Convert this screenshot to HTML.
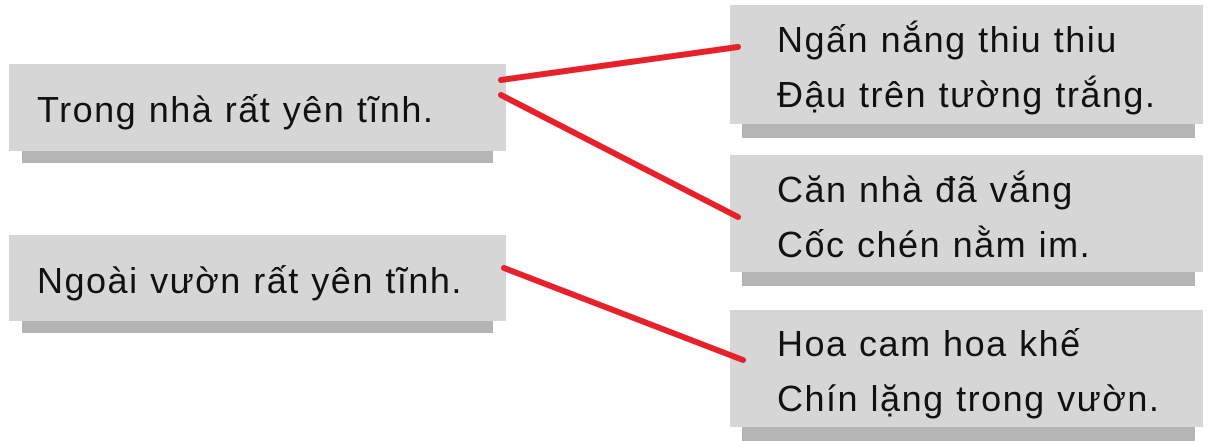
<!DOCTYPE html>
<html><head><meta charset="utf-8"><style>
body{margin:0;width:1213px;height:441px;background:#fff;position:relative;overflow:hidden;font-family:"Liberation Sans","DejaVu Sans",sans-serif;color:#111}
.b{position:absolute;background:#d6d6d6}
.s{position:absolute;background:#b5b5b5}
.t{position:absolute;font-size:36px;letter-spacing:1.5px;white-space:nowrap;line-height:55px}
</style></head><body>
<div class="s" style="left:22px;top:148px;width:471px;height:15px"></div>
<div class="b" style="left:9px;top:64px;width:497px;height:87px"></div>
<div class="t" style="left:37px;top:82px">Trong nhà rất yên tĩnh.</div>

<div class="s" style="left:22px;top:318px;width:471px;height:15px"></div>
<div class="b" style="left:9px;top:235px;width:497px;height:86px"></div>
<div class="t" style="left:37px;top:253px">Ngoài vườn rất yên tĩnh.</div>

<div class="s" style="left:742px;top:122px;width:453px;height:16px"></div>
<div class="b" style="left:730px;top:5px;width:473px;height:119px"></div>
<div class="t" style="left:777px;top:12px">Ngấn nắng thiu thiu<br>Đậu trên tường trắng.</div>

<div class="s" style="left:742px;top:270px;width:453px;height:16px"></div>
<div class="b" style="left:730px;top:155px;width:473px;height:117px"></div>
<div class="t" style="left:777px;top:162px">Căn nhà đã vắng<br>Cốc chén nằm im.</div>

<div class="s" style="left:742px;top:425px;width:453px;height:16px"></div>
<div class="b" style="left:730px;top:310px;width:473px;height:117px"></div>
<div class="t" style="left:777px;top:316px">Hoa cam hoa khế<br>Chín lặng trong vườn.</div>

<svg width="1213" height="441" style="position:absolute;left:0;top:0">
<g stroke="#e8202a" stroke-width="6" stroke-linecap="round">
<line x1="501" y1="80" x2="738" y2="47"/>
<line x1="501" y1="95" x2="738" y2="217"/>
<line x1="504" y1="268" x2="743" y2="360"/>
</g></svg>
</body></html>
